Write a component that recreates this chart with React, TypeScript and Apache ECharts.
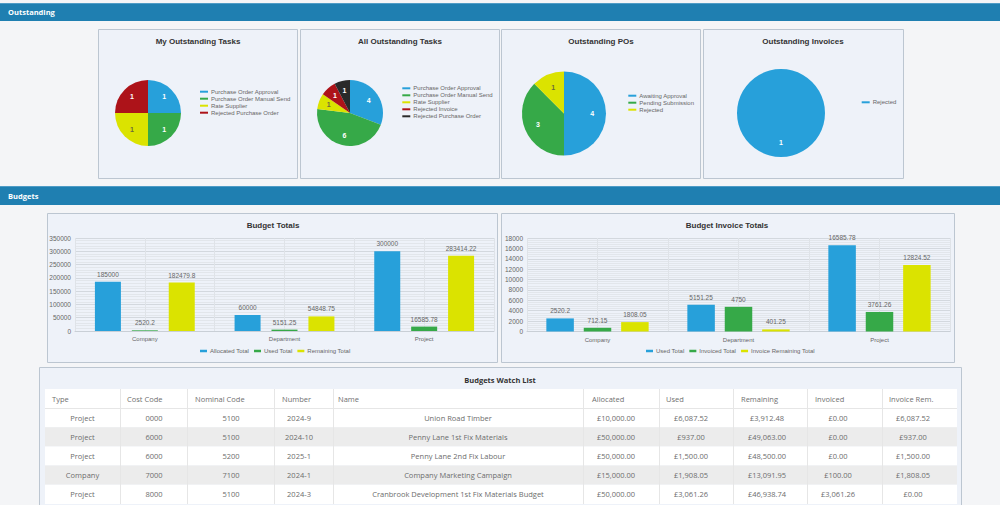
import React, { useEffect, useRef } from "react";
import * as echarts from "echarts";

const BLUE = "#27a0da";
const GREEN = "#36a948";
const YELLOW = "#dbe300";
const RED = "#ad1319";
const BLACK = "#2a2a2a";

// ---- Outstanding pies ----
const myTaskNames = ["Purchase Order Approval", "Purchase Order Manual Send", "Rate Supplier", "Rejected Purchase Order"];
const myTaskValues = [1, 1, 1, 1];
const myTaskColors = [BLUE, GREEN, YELLOW, RED];

const allTaskNames = ["Purchase Order Approval", "Purchase Order Manual Send", "Rate Supplier", "Rejected Invoice", "Rejected Purchase Order"];
const allTaskValues = [4, 6, 1, 1, 1];
const allTaskColors = [BLUE, GREEN, YELLOW, RED, BLACK];

const poNames = ["Awaiting Approval", "Pending Submission", "Rejected"];
const poValues = [4, 3, 1];
const poColors = [BLUE, GREEN, YELLOW];

const invNames = ["Rejected"];
const invValues = [1];
const invColors = [BLUE];

// ---- Budget bars ----
const budgetCategories = ["Company", "Department", "Project"];
const allocatedTotal = [185000, 60000, 300000];
const usedTotal = [2520.2, 5151.25, 16585.78];
const remainingTotal = [182479.8, 54848.75, 283414.22];

const invUsedTotal = [2520.2, 5151.25, 16585.78];
const invoicedTotal = [712.15, 4750, 3761.26];
const invoiceRemainingTotal = [1808.05, 401.25, 12824.52];

// ---- Watch list table ----
const tableHeaders = ["Type", "Cost Code", "Nominal Code", "Number", "Name", "Allocated", "Used", "Remaining", "Invoiced", "Invoice Rem."];
const rowTypes = ["Project", "Project", "Project", "Company", "Project"];
const rowCostCodes = ["0000", "6000", "6000", "7000", "8000"];
const rowNominalCodes = ["5100", "5100", "5200", "7100", "5100"];
const rowNumbers = ["2024-9", "2024-10", "2025-1", "2024-1", "2024-3"];
const rowNames = ["Union Road Timber", "Penny Lane 1st Fix Materials", "Penny Lane 2nd Fix Labour", "Company Marketing Campaign", "Cranbrook Development 1st Fix Materials Budget"];
const rowAllocated = ["£10,000.00", "£50,000.00", "£50,000.00", "£15,000.00", "£50,000.00"];
const rowUsed = ["£6,087.52", "£937.00", "£1,500.00", "£1,908.05", "£3,061.26"];
const rowRemaining = ["£3,912.48", "£49,063.00", "£48,500.00", "£13,091.95", "£46,938.74"];
const rowInvoiced = ["£0.00", "£0.00", "£0.00", "£100.00", "£3,061.26"];
const rowInvoiceRem = ["£6,087.52", "£937.00", "£1,500.00", "£1,808.05", "£0.00"];

const SANS = "Liberation Sans, Arial, sans-serif";
const OPEN = "Open Sans, Noto Sans, sans-serif";

function pies(names: string[], values: number[], colors: string[], cx: number, cy: number, r: number) {
  const data = names.map((n, i) => ({ name: n, value: values[i], itemStyle: { color: colors[i] } }));
  return [
    {
      type: "pie",
      center: [cx, cy],
      radius: [0, r],
      startAngle: 90,
      silent: true,
      label: { show: false },
      labelLine: { show: false },
      data,
    },
    {
      type: "pie",
      center: [cx, cy],
      radius: [r * 0.2, r],
      startAngle: 90,
      silent: true,
      itemStyle: { color: "rgba(0,0,0,0)" },
      labelLine: { show: false },
      data: names.map((n, i) => ({
        name: n,
        value: values[i],
        itemStyle: { color: "rgba(0,0,0,0)" },
        label: {
          show: true,
          position: "inside",
          formatter: "{c}",
          fontSize: 7,
          fontWeight: "bold",
          fontFamily: SANS,
          color: colors[i] === YELLOW ? "#6b6b3a" : "#ffffff",
        },
      })),
    },
  ];
}

function pieLegend(names: string[], colors: string[], left: number, top: number) {
  return {
    orient: "vertical",
    left,
    top,
    padding: 0,
    itemGap: 0,
    itemWidth: 8,
    itemHeight: 2,
    icon: "rect",
    selectedMode: false,
    textStyle: { fontSize: 6, color: "#666", lineHeight: 7, fontFamily: SANS, padding: [0, 0, 0, -2] },
    data: names.map((n, i) => ({ name: n, itemStyle: { color: colors[i] } })),
  };
}

function barLegend(names: string[], colors: string[], left: number, top: number) {
  return {
    orient: "horizontal",
    left,
    top,
    padding: 0,
    itemGap: 5,
    itemWidth: 7,
    itemHeight: 2.5,
    icon: "rect",
    selectedMode: false,
    textStyle: { fontSize: 6, color: "#666", lineHeight: 7, fontFamily: SANS, padding: [0, 0, 0, -2] },
    data: names.map((n, i) => ({ name: n, itemStyle: { color: colors[i] } })),
  };
}

function panel(x: number, y: number, w: number, h: number) {
  return {
    type: "rect",
    z: -10,
    shape: { x: x + 0.5, y: y + 0.5, width: w, height: h },
    style: { fill: "#eef2f9", stroke: "#bcc6d1", lineWidth: 1 },
  };
}

function title(text: string, x: number, y: number) {
  return {
    type: "text",
    z: 10,
    x,
    y,
    style: { text, fill: "#333", font: `bold 8px ${SANS}`, textAlign: "center", textVerticalAlign: "middle" },
  };
}

function header(text: string, y: number, h: number) {
  return [
    { type: "rect", z: -9, shape: { x: 0, y, width: 1000, height: h }, style: { fill: "#1f7fb1" } },
    { type: "rect", z: -9, shape: { x: 0, y, width: 1000, height: 1 }, style: { fill: "#4f9cc6" } },
    {
      type: "text",
      z: 10,
      x: 8,
      y: y + h / 2,
      style: { text, fill: "#ffffff", font: `bold 7.5px ${OPEN}`, textVerticalAlign: "middle" },
    },
  ];
}

function barGridAxes(gridIndex: number, max: number, interval: number) {
  return {
    xCat: {
      type: "category",
      gridIndex,
      data: budgetCategories,
      boundaryGap: true,
      axisLine: { show: true, lineStyle: { color: "#c9cfd6" } },
      axisTick: { show: false },
      splitLine: { show: true, lineStyle: { color: "#cfd5dc" } },
      axisLabel: { color: "#666", fontSize: 6, margin: 5, fontFamily: SANS },
    },
    xHalf: {
      type: "value",
      gridIndex,
      min: 0,
      max: 6,
      interval: 1,
      show: true,
      axisLine: { show: false },
      axisTick: { show: false },
      axisLabel: { show: false },
      splitLine: { show: true, lineStyle: { color: "#dfe3e8" } },
    },
    y: {
      type: "value",
      gridIndex,
      min: 0,
      max,
      interval,
      axisLine: { show: false },
      axisTick: { show: false },
      axisLabel: { color: "#666", fontSize: 6.5, margin: 4, fontFamily: SANS, formatter: (v: number) => String(v) },
      splitLine: { show: true, lineStyle: { color: "#d3d8de" } },
      minorTick: { show: false, splitNumber: 5 },
      minorSplitLine: { show: true, lineStyle: { color: "#e2e6eb" } },
    },
  };
}

function barSeries(name: string, values: number[], color: string, xAxisIndex: number, yAxisIndex: number, width: number, gap: string) {
  return {
    type: "bar",
    name,
    xAxisIndex,
    yAxisIndex,
    data: values,
    barWidth: width,
    barGap: gap,
    silent: true,
    itemStyle: { color },
    label: { show: true, position: "top", distance: 4, color: "#666", fontSize: 6.5, fontFamily: SANS },
  };
}

function tableGraphics() {
  const els: any[] = [];
  const edges = [45, 120, 187, 274, 333, 583, 659, 733, 807, 882, 957];
  const headerX = [52, 127, 195, 282, 338, 592, 666, 741, 815, 889];
  const cellX = [82.5, 154, 231, 299, 458, 616, 691, 767, 838, 913];
  const headTop = 389;
  const headH = 19;
  const rowH = 19.2;
  const columns = [rowTypes, rowCostCodes, rowNominalCodes, rowNumbers, rowNames, rowAllocated, rowUsed, rowRemaining, rowInvoiced, rowInvoiceRem];

  els.push(panel(39, 367, 922, 160));
  els.push({
    type: "text",
    z: 10,
    x: 500,
    y: 379.5,
    style: { text: "Budgets Watch List", fill: "#333", font: `bold 7.5px ${OPEN}`, textAlign: "center", textVerticalAlign: "middle" },
  });
  els.push({ type: "rect", z: -8, shape: { x: edges[0], y: headTop, width: edges[10] - edges[0], height: headH }, style: { fill: "#ffffff" } });
  rowTypes.forEach((_, r) => {
    els.push({
      type: "rect",
      z: -8,
      shape: { x: edges[0], y: headTop + headH + r * rowH, width: edges[10] - edges[0], height: rowH },
      style: { fill: r % 2 === 1 ? "#ececec" : "#ffffff" },
    });
  });
  els.push({
    type: "line",
    z: -7,
    shape: { x1: edges[0], y1: headTop + headH + 0.5, x2: edges[10], y2: headTop + headH + 0.5 },
    style: { stroke: "#e6e6e6", lineWidth: 1 },
  });
  edges.slice(1, 10).forEach((ex) => {
    els.push({
      type: "line",
      z: -7,
      shape: { x1: ex + 0.5, y1: headTop, x2: ex + 0.5, y2: headTop + headH + rowH * rowTypes.length },
      style: { stroke: "#e6e6e6", lineWidth: 1 },
    });
  });
  tableHeaders.forEach((h, c) => {
    els.push({
      type: "text",
      z: 10,
      x: headerX[c],
      y: headTop + headH / 2,
      style: { text: h, fill: "#707070", font: `7.5px ${OPEN}`, textVerticalAlign: "middle" },
    });
  });
  columns.forEach((col, c) => {
    col.forEach((v, r) => {
      els.push({
        type: "text",
        z: 10,
        x: cellX[c],
        y: headTop + headH + r * rowH + rowH / 2,
        style: { text: v, fill: "#6c6c6c", font: `7.5px ${OPEN}`, textAlign: "center", textVerticalAlign: "middle" },
      });
    });
  });
  return els;
}

export default function App() {
  const ref = useRef<HTMLDivElement>(null);
  useEffect(() => {
    if (!ref.current) return;
    const chart = echarts.init(ref.current, undefined, { renderer: "svg" });
    const a1 = barGridAxes(0, 350000, 50000);
    const a2 = barGridAxes(1, 18000, 2000);
    const option: any = {
      animation: false,
      backgroundColor: "#f4f5f7",
      tooltip: { show: false },
      grid: [
        { left: 75, top: 238, width: 419, height: 93 },
        { left: 527, top: 238, width: 423, height: 93.5 },
      ],
      xAxis: [a1.xCat, a1.xHalf, a2.xCat, a2.xHalf],
      yAxis: [a1.y, a2.y],
      legend: [
        pieLegend(myTaskNames, myTaskColors, 200, 88.2),
        pieLegend(allTaskNames, allTaskColors, 402.3, 84.8),
        pieLegend(poNames, poColors, 628.3, 92.2),
        pieLegend(invNames, invColors, 861.7, 98.8),
        barLegend(["Allocated Total", "Used Total", "Remaining Total"], [BLUE, GREEN, YELLOW], 200, 347.5),
        barLegend(["Used Total", "Invoiced Total", "Invoice Remaining Total"], [BLUE, GREEN, YELLOW], 646, 347.5),
      ],
      series: [
        ...pies(myTaskNames, myTaskValues, myTaskColors, 148, 113, 33),
        ...pies(allTaskNames, allTaskValues, allTaskColors, 350, 113, 33),
        ...pies(poNames, poValues, poColors, 564, 113.5, 42),
        ...pies(invNames, invValues, invColors, 781, 113, 44),
        barSeries("Allocated Total", allocatedTotal, BLUE, 0, 0, 26, "42%"),
        barSeries("Used Total", usedTotal, GREEN, 0, 0, 26, "42%"),
        barSeries("Remaining Total", remainingTotal, YELLOW, 0, 0, 26, "42%"),
        barSeries("Used Total", invUsedTotal, BLUE, 2, 1, 27.5, "36%"),
        barSeries("Invoiced Total", invoicedTotal, GREEN, 2, 1, 27.5, "36%"),
        barSeries("Invoice Remaining Total", invoiceRemainingTotal, YELLOW, 2, 1, 27.5, "36%"),
      ],
      graphic: {
        elements: [
          ...header("Outstanding", 3, 18),
          ...header("Budgets", 186, 19),
          panel(98, 29, 199, 149),
          panel(300, 29, 199, 149),
          panel(501, 29, 199, 149),
          panel(703, 29, 200, 149),
          title("My Outstanding Tasks", 198, 41),
          title("All Outstanding Tasks", 400, 41),
          title("Outstanding POs", 601, 41),
          title("Outstanding Invoices", 803, 41),
          panel(47, 213, 450, 149),
          panel(501, 213, 453, 149),
          title("Budget Totals", 273, 225),
          title("Budget Invoice Totals", 727, 225),
          ...tableGraphics(),
        ],
      },
    };
    chart.setOption(option);
    return () => chart.dispose();
  }, []);
  return <div ref={ref} style={{ position: "absolute", left: 0, top: 0, width: 1000, height: 505 }} />;
}
